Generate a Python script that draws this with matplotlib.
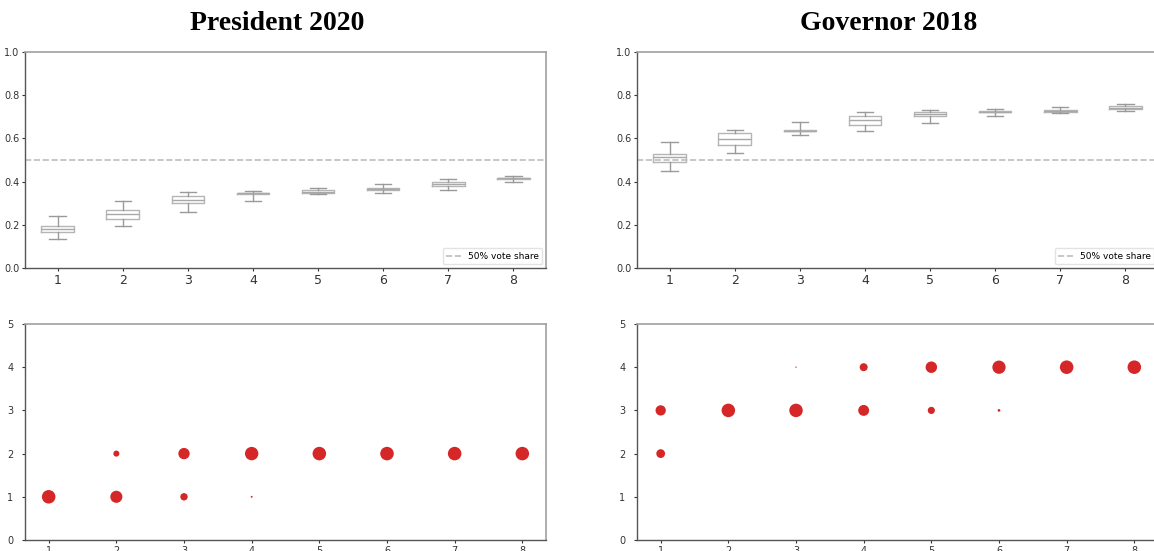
import matplotlib
matplotlib.use("Agg")
import matplotlib.pyplot as plt

# District index (1..8) shared by every panel
districts = [1, 2, 3, 4, 5, 6, 7, 8]

# Box-plot summaries of vote share per district: low whisker, Q1, median, Q3, high whisker
pres_lo  = [0.135, 0.195, 0.260, 0.310, 0.342, 0.345, 0.360, 0.396]
pres_q1  = [0.165, 0.228, 0.300, 0.343, 0.348, 0.360, 0.378, 0.412]
pres_med = [0.180, 0.248, 0.315, 0.346, 0.353, 0.366, 0.388, 0.415]
pres_q3  = [0.195, 0.270, 0.332, 0.348, 0.360, 0.372, 0.396, 0.418]
pres_hi  = [0.240, 0.310, 0.350, 0.355, 0.372, 0.388, 0.410, 0.424]

gov_lo  = [0.448, 0.532, 0.614, 0.633, 0.673, 0.702, 0.716, 0.726]
gov_q1  = [0.490, 0.568, 0.633, 0.660, 0.706, 0.720, 0.724, 0.735]
gov_med = [0.512, 0.598, 0.635, 0.683, 0.713, 0.722, 0.728, 0.742]
gov_q3  = [0.530, 0.627, 0.637, 0.702, 0.720, 0.725, 0.733, 0.750]
gov_hi  = [0.585, 0.638, 0.675, 0.720, 0.730, 0.735, 0.744, 0.757]

# Number of districts won (y) and share of plans (%) for each district rank (x)
pres_x     = [1, 2, 2, 3, 3, 4, 4, 5, 6, 7, 8]
pres_seats = [1, 1, 2, 1, 2, 1, 2, 2, 2, 2, 2]
pres_pct   = [100, 80, 20, 30, 70, 2, 98, 100, 100, 100, 100]

gov_x     = [1, 1, 2, 3, 3, 4, 4, 5, 5, 6, 6, 7, 8]
gov_seats = [2, 3, 3, 3, 4, 3, 4, 3, 4, 3, 4, 4, 4]
gov_pct   = [42, 58, 100, 99, 1, 65, 35, 28, 72, 4, 96, 100, 100]

titles = ["President 2020", "Governor 2018"]
threshold = 0.5
threshold_label = "50% vote share"

W, H = 1154, 551
fig = plt.figure(figsize=(W / 100, H / 100), dpi=100)

col_x = [25, 637]
col_w = 521
row_top = [(52, 268), (324, 540)]


def frac_rect(x0, y_top, y_bot):
    return [x0 / W, (H - y_bot) / H, col_w / W, (y_bot - y_top) / H]


def style_spines(ax):
    for side in ("top", "right"):
        ax.spines[side].set_color("#a0a0a0")
        ax.spines[side].set_linewidth(1.2)
    for side in ("left", "bottom"):
        ax.spines[side].set_color("#555555")
        ax.spines[side].set_linewidth(1.0)
    ax.tick_params(colors="#333333", length=2.5, width=0.8, pad=1.5)


box_sets = [
    (pres_lo, pres_q1, pres_med, pres_q3, pres_hi),
    (gov_lo, gov_q1, gov_med, gov_q3, gov_hi),
]
dot_sets = [
    (pres_x, pres_seats, pres_pct),
    (gov_x, gov_seats, gov_pct),
]
title_cx = [277, 889]

for c in range(2):
    # Top row: vote-share box plots
    ax = fig.add_axes(frac_rect(col_x[c], *row_top[0]))
    lo, q1, med, q3, hi = box_sets[c]
    stats = [
        dict(whislo=lo[i], q1=q1[i], med=med[i], q3=q3[i], whishi=hi[i], fliers=[])
        for i in range(len(districts))
    ]
    ax.bxp(
        stats, positions=districts, widths=0.5, showfliers=False,
        boxprops=dict(color="#b5b5b5", linewidth=1.0),
        whiskerprops=dict(color="#9a9a9a", linewidth=1.0),
        capprops=dict(color="#9a9a9a", linewidth=1.0),
        medianprops=dict(color="#a8a8a8", linewidth=1.0),
    )
    ax.axhline(threshold, color="#bdbdbd", linestyle="--", linewidth=1.2,
               label=threshold_label)
    ax.set_ylim(0, 1.0)
    ax.set_xlim(0.5, 8.5)
    ax.set_xticks(districts)
    ax.set_xticklabels([str(d) for d in districts])
    ax.set_yticks([0.0, 0.2, 0.4, 0.6, 0.8, 1.0])
    style_spines(ax)
    ax.tick_params(axis="x", labelsize=9)
    ax.tick_params(axis="y", labelsize=7)
    ax.legend(loc="lower right", fontsize=6.5, frameon=True, framealpha=0.8,
              edgecolor="#dddddd", borderaxespad=0.4, handlelength=1.6)

    # Bottom row: seats won, sized by share of plans
    ax2 = fig.add_axes(frac_rect(col_x[c], *row_top[1]))
    xs, ys, pct = dot_sets[c]
    ax2.scatter(xs, ys, s=[p * 0.95 for p in pct], color="#d62728", linewidths=0)
    ax2.set_ylim(0, 5)
    ax2.set_xlim(0.65, 8.35)
    ax2.set_xticks(districts)
    ax2.set_yticks(range(0, 6))
    style_spines(ax2)
    ax2.tick_params(axis="both", labelsize=7)
    ax2.tick_params(axis="y", pad=6)

    fig.text(title_cx[c] / W, 1 - 23 / H, titles[c], ha="center", va="center",
             fontsize=20, fontweight="bold", family="Liberation Serif")

fig.savefig("out.png", dpi=100)
